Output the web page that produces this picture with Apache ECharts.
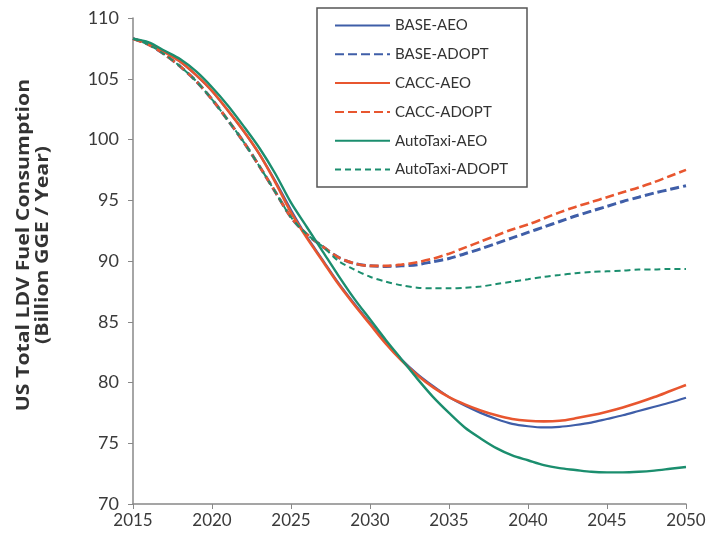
<!DOCTYPE html>
<html><head><meta charset="utf-8">
<script src="https://cdn.jsdelivr.net/npm/echarts@6/dist/echarts.min.js"></script>
<style>html,body{margin:0;padding:0;background:#fff}#c{width:720px;height:540px}</style>
</head><body><div id="c"></div>
<script>
const years = [2015,2016,2017,2018,2019,2020,2021,2022,2023,2024,2025,2026,2027,2028,2029,2030,2031,2032,2033,2034,2035,2036,2037,2038,2039,2040,2041,2042,2043,2044,2045,2046,2047,2048,2049,2050];
const xTicks = [2015,2020,2025,2030,2035,2040,2045,2050];
const yTicks = [70,75,80,85,90,95,100,105,110];
const baseAEO = [108.3,107.9,107.2,106.4,105.3,104.0,102.4,100.7,98.8,96.6,94.2,92.0,90.1,88.2,86.5,84.9,83.3,81.9,80.7,79.7,78.8,78.1,77.5,77.0,76.6,76.4,76.3,76.35,76.5,76.7,77.0,77.3,77.65,78.0,78.35,78.75];
const baseADOPT = [108.3,107.8,107.0,106.0,104.8,103.3,101.6,99.8,97.8,95.7,93.6,92.2,91.2,90.3,89.8,89.6,89.55,89.6,89.7,89.95,90.2,90.6,91.0,91.45,91.9,92.35,92.8,93.25,93.7,94.1,94.5,94.9,95.25,95.6,95.9,96.2];
const caccAEO = [108.3,107.9,107.2,106.4,105.3,104.0,102.4,100.7,98.8,96.5,94.0,91.9,90.0,88.1,86.4,84.8,83.2,81.8,80.6,79.6,78.8,78.2,77.7,77.3,77.0,76.85,76.8,76.85,77.05,77.3,77.6,77.95,78.35,78.8,79.3,79.8];
const caccADOPT = [108.3,107.8,107.0,106.0,104.8,103.3,101.6,99.8,97.8,95.7,93.6,92.2,91.2,90.3,89.8,89.6,89.6,89.7,89.9,90.2,90.6,91.1,91.6,92.1,92.6,93.0,93.5,94.0,94.45,94.85,95.25,95.65,96.05,96.5,97.0,97.5];
const taxiAEO = [108.3,108.0,107.3,106.6,105.6,104.3,102.8,101.1,99.3,97.2,94.8,92.8,90.8,88.8,86.9,85.2,83.5,81.9,80.3,78.8,77.5,76.3,75.4,74.6,74.0,73.6,73.2,72.95,72.8,72.65,72.6,72.6,72.65,72.75,72.9,73.05];
const taxiADOPT = [108.3,107.8,107.0,106.0,104.8,103.3,101.6,99.8,97.8,95.7,93.6,92.2,91.2,90.0,89.3,88.7,88.3,88.0,87.8,87.75,87.75,87.8,87.9,88.1,88.3,88.5,88.7,88.85,89.0,89.1,89.15,89.2,89.3,89.3,89.35,89.35];
const names = ['BASE-AEO','BASE-ADOPT','CACC-AEO','CACC-ADOPT','AutoTaxi-AEO','AutoTaxi-ADOPT'];
const yTitle = 'US Total LDV Fuel Consumption\n(Billion GGE / Year)';

const BLUE='#3F5EA8', ORANGE='#E8562F', GREEN='#1B8E6E';
const pair = arr => years.map((y,i)=>[y,arr[i]]);
const FONT='Lato';
function mk(name, data, color, type, width){
  return {name, type:'line', data:pair(data), symbol:'none', smooth:0.3,
    lineStyle:{color, width, type}, itemStyle:{color}};
}
const chart = echarts.init(document.getElementById('c'), null, {renderer:'canvas'});
chart.setOption({
  animation:false,
  backgroundColor:'#fff',
  textStyle:{fontFamily:FONT},
  grid:{left:133, right:34, top:18, bottom:36},
  legend:{
    orient:'vertical', left:317, top:8,
    data:names,
    borderColor:'#555', borderWidth:1.5, borderRadius:0,
    padding:[10,19,10,17],
    itemWidth:55, itemHeight:14, itemGap:13.8,
    itemStyle:{opacity:0},
    textStyle:{fontFamily:FONT, fontSize:15, color:'#333'}
  },
  graphic:[{
    type:'text', x:34, y:245, rotation:Math.PI/2, scaleX:1.25,
    style:{text:yTitle, font:'bold 17px "Open Sans"', fill:'#333', align:'center', verticalAlign:'middle', lineHeight:19}
  }],
  xAxis:{type:'value', min:xTicks[0], max:xTicks[xTicks.length-1], interval:5,
    axisLine:{show:true, lineStyle:{color:'#888', width:1.5}},
    axisTick:{show:true, length:5, lineStyle:{color:'#888'}},
    splitLine:{show:false},
    axisLabel:{fontFamily:FONT, fontSize:17, color:'#3a3a3a', margin:8, formatter:v=>String(v)}
  },
  yAxis:{type:'value', min:yTicks[0], max:yTicks[yTicks.length-1], interval:5,
    axisLine:{show:true, lineStyle:{color:'#888', width:1.5}},
    axisTick:{show:true, length:5, lineStyle:{color:'#888'}},
    splitLine:{show:false},
    axisLabel:{fontFamily:FONT, fontSize:18, color:'#3a3a3a', margin:14}
  },
  series:[
    mk(names[0], baseAEO, BLUE, 'solid', 2.2),
    mk(names[1], baseADOPT, BLUE, [9,4], 3),
    mk(names[2], caccAEO, ORANGE, 'solid', 2.6),
    mk(names[3], caccADOPT, ORANGE, [9,4], 2.6),
    mk(names[4], taxiAEO, GREEN, 'solid', 2.4),
    mk(names[5], taxiADOPT, GREEN, [6,4], 2)
  ]
});
</script></body></html>
